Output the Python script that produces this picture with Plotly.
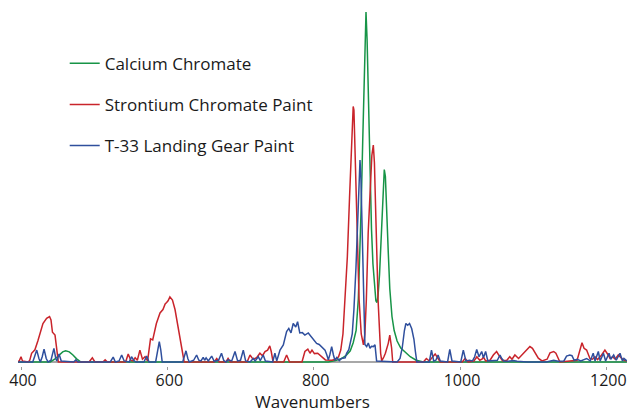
import plotly.graph_objects as go

# ---- Calcium Chromate ----
ca_x = [396, 440, 446, 452, 457, 461, 466, 471, 476, 482,
        820, 830, 838, 845, 850, 854, 858, 861, 863, 865, 867, 869, 870.5, 871.5,
        873, 875, 877, 879, 881, 883, 885, 886.5, 888, 890, 892, 894, 895.5, 896.5,
        898, 900, 902, 904, 907, 910, 914, 919, 925, 932, 940, 950, 1228]
ca_y = [0, 0, 0.8, 2.0, 2.9, 3.2, 2.9, 2.0, 0.9, 0,
        0, 0.4, 1.0, 2.0, 3.2, 5.5, 9, 18, 30, 45, 63, 82, 95, 100,
        92, 75, 52, 38, 28, 21, 17.5, 17, 19, 25, 35, 46, 53, 55,
        53, 44, 31, 21, 13, 9, 6, 4, 2.8, 1.5, 0.5, 0, 0]

# ---- Strontium Chromate Paint ----
sr_x = [396, 398, 400, 402, 410, 412, 414.5, 419, 423, 426, 430, 435, 439, 441, 443, 446.5, 449, 451,
        493, 497.5, 501, 512, 515, 518,
        543, 546.5, 550, 553, 556, 559, 562.5, 566, 569.5, 573, 577, 580, 585, 590, 594, 597, 599, 601,
        603.5, 607, 610.5, 615, 619.5, 623,
        664, 667.5, 671, 680, 683, 686,
        709, 713, 717, 722, 726.5, 730, 733.5, 737, 740, 742, 744.5,
        759, 763, 767,
        784, 788, 792, 795, 797.7, 801, 805.5, 811, 816, 825, 830, 834, 837, 840, 843, 846, 849, 851,
        853, 854, 855, 857, 859, 862, 865, 868, 870, 872, 874.5, 877, 879.5, 881.5, 883, 885, 888,
        891.5, 893, 896, 898, 902, 904, 906.5, 908,
        950, 954, 958, 962, 966, 970, 973,
        1003, 1007, 1011, 1019, 1023, 1027, 1030, 1032, 1035, 1041, 1045.5, 1050, 1054, 1058, 1064,
        1068, 1071, 1075, 1080, 1087, 1091, 1095.5, 1099, 1102.5, 1107, 1112, 1119, 1123, 1128, 1131,
        1136.5,
        1160, 1164, 1166.7, 1169.5, 1173, 1177.5, 1181, 1184.5, 1188, 1193.5, 1198, 1202.5, 1205,
        1208.5, 1212, 1216.3, 1223, 1228]
sr_y = [0, 0.5, 1.5, 0.3, 0, 0.5, 2.5, 3.5, 6, 8.5, 11, 12.5, 13, 12, 8.5, 7.7, 2.5, 0,
        0, 1.2, 0, 0, 0.6, 0,
        0, 2.3, 0.5, 0.3, 1.2, 0.5, 3.4, 0.8, 1.5, 0.3, 6.6, 6.3, 11, 14, 15, 16.6, 17, 17.5,
        18.6, 17.7, 15, 10, 4.3, 0,
        0, 1, 0, 0, 1, 0,
        0, 2, 0.8, 1.2, 2.5, 1.8, 3, 3.4, 4.6, 3, 0,
        0, 2, 0,
        0, 3, 3.7, 2.5, 3.4, 2.4, 2.5, 1.4, 0.6, 0.5, 0.8, 1.5, 3.4, 8, 17.7, 30, 47, 58,
        69, 73, 72, 58, 43, 18, 8, 4.9, 8, 18, 37, 50, 59, 62, 57, 41, 17.7,
        2.5, 0.3, 1.5, 2.5, 5.4, 7.7, 4, 0,
        0, 1, 0.3, 1.2, 2.3, 1, 0,
        0, 1, 0, 0.3, 1.5, 0.5, 0.8, 1.4, 0.3, 0.5, 2, 3, 1.6, 0.4, 0.5,
        1.5, 0.8, 2, 1, 2.6, 3.4, 4.4, 3.9, 2.5, 1.1, 0.3, 0.8, 2.6, 3, 2.5,
        0,
        0.5, 3.4, 5.5, 3.9, 3.4, 1, 0.8, 1.5, 0.7, 2, 3.4, 2, 1,
        1.5, 0.8, 2, 0.6, 0.3]

# ---- T-33 Landing Gear Paint ----
t33_x = [396, 416, 418.5, 421.5, 424.5, 426.5, 429, 431.5, 434.5, 437, 441, 443, 445, 447.5, 449, 452, 455,
         472, 475, 478, 522, 526, 529, 534, 537.6, 541, 548, 551, 554, 557, 568, 571.8, 575,
         584, 586, 589, 591, 593, 621, 623, 625.5, 628, 630, 636, 640, 643, 646, 649, 651, 653, 656,
         660.6, 664, 670, 674, 677, 680, 683, 688, 692.5, 696, 700, 703.8, 707, 713, 717.5, 720,
         724.3, 727, 731, 734, 744, 747, 749.5, 754, 758.5, 763, 766, 769, 772, 775.5, 778, 781,
         784.5, 788, 792.6, 797, 800, 804, 807.5, 811, 815.5, 818, 820, 822, 824.6, 827, 829, 831.5,
         835, 838, 843, 845, 848, 852.7, 855, 857.8, 860, 862, 863.3, 864.5, 866, 867, 868.7, 870,
         872.4, 874.6, 877, 879, 881.5, 883.8, 886,
         914, 918, 921, 924, 926, 928.5, 931, 934, 937, 939, 941,
         958, 961, 964, 967, 970, 973, 983, 986, 989, 1001, 1004.5, 1008, 1013, 1017, 1020, 1022.8,
         1026, 1029.6, 1032, 1035, 1038, 1046, 1051, 1054.6, 1057, 1060, 1066, 1073, 1078, 1092,
         1118, 1128, 1134, 1142, 1145.6, 1150, 1153, 1156, 1160, 1165, 1173, 1178, 1182, 1184.5,
         1189, 1191.5, 1196, 1199, 1203.6, 1206, 1210, 1213.5, 1218.6, 1222, 1224, 1228]
t33_y = [0, 0, 1.5, 3.4, 1, 0, 1.5, 3.7, 1, 0, 0.5, 2, 3.9, 1, 0.3, 2.3, 0.3,
         0, 0.6, 0, 0, 1.4, 0, 0.3, 2, 0.3, 0, 1.5, 0.5, 0, 0, 1.7, 0,
         0, 2.5, 5.8, 3.5, 0, 0, 1.5, 3.2, 1, 0, 0.5, 2, 0.5, 0.3, 1.3, 0.5, 1.2, 0.3,
         1.7, 0.2, 0.5, 2.5, 0.5, 0, 0.6, 0.3, 3, 0.3, 0.5, 3.4, 0.3, 0, 1, 0.3,
         1.5, 0.4, 2, 0.3, 0, 2.5, 0.3, 3.4, 4.9, 8.7, 9.6, 8.3, 11, 10, 11.5, 8.3,
         8.4, 7.7, 8.3, 7.2, 6.5, 5.3, 5, 4.4, 3.4, 2, 0.6, 2, 4.4, 2, 0.5, 1.3,
         0.4, 1, 1.2, 2.5, 3.5, 8, 15, 27, 42, 54, 57.7, 53, 38, 27, 8, 5,
         4.4, 5.4, 3.9, 4.5, 4.4, 4.9, 0.3,
         0, 1, 4, 9, 11, 10.5, 11, 9.5, 6.5, 3, 0,
         0, 3.4, 0.3, 0.5, 2, 0.3, 0, 3.6, 0.3, 0, 3.4, 0.3, 0.5, 0.3, 1.5, 3.6,
         1.5, 3, 1.2, 3, 0.3, 0.3, 0.5, 2, 1, 0.3, 0.2, 0.4, 0.2, 0,
         0, 0.5, 0.2, 0.3, 1.7, 2, 1.8, 0.5, 0.8, 0.3, 1, 0.3, 2.5, 0.3,
         3, 0.3, 2.5, 0.3, 2.5, 0.8, 2, 0.5, 2.5, 0.3, 1, 0.3]

tick_vals = [400, 600, 800, 1000, 1200]
tick_text = ["400", "600", "800", "1000", "1200"]
x_title = "Wavenumbers"

GREEN = "#179447"
RED = "#c9242b"
BLUE = "#2f4f9d"
FONT = "Open Sans"
TXT = "#1a1a1a"

fig = go.Figure()
for i, (name, xs, ys, col) in enumerate([
        ("Calcium Chromate", ca_x, ca_y, GREEN),
        ("Strontium Chromate Paint", sr_x, sr_y, RED),
        ("T-33 Landing Gear Paint", t33_x, t33_y, BLUE)]):
    fig.add_trace(go.Scatter(x=xs, y=ys, mode="lines", name=name,
                             legendgroup=f"g{i}",
                             line=dict(color=col, width=1.5)))

fig.update_layout(
    width=627, height=412,
    margin=dict(l=18, r=0, t=5, b=46),
    paper_bgcolor="white", plot_bgcolor="white",
    font=dict(family=FONT, size=16, color=TXT),
    showlegend=True,
    legend=dict(x=0.0767, y=0.887, xanchor="left", yanchor="top",
                traceorder="grouped", tracegroupgap=16,
                font=dict(family=FONT, size=17, color=TXT),
                bgcolor="rgba(0,0,0,0)", itemwidth=30),
    xaxis=dict(range=[395.9, 1228.2], tickvals=tick_vals, ticktext=tick_text,
               showgrid=False, zeroline=False, showline=False,
               ticks="outside", ticklen=3, tickcolor="#9a9a9a",
               ticklabeloverflow="allow", ticklabelshift=2, ticklabelstandoff=-3,
               tickfont=dict(family=FONT, size=16, color=TXT)),
    yaxis=dict(range=[-1.143, 102], showgrid=False, showticklabels=False,
               zeroline=True, zerolinecolor="#a8a8a8", zerolinewidth=1.5,
               showline=False, ticks=""),
    annotations=[dict(text=x_title, xref="paper", yref="paper", x=0.483, y=-0.097,
                      xanchor="center", yanchor="middle", showarrow=False,
                      font=dict(family=FONT, size=17, color=TXT))],
)

# remove the default 8px page margin so the figure sits at the window's corner
fig.write_html("out.html",
               config={"displayModeBar": False},
               post_script="document.body.style.margin='0';document.body.style.overflow='hidden';")
